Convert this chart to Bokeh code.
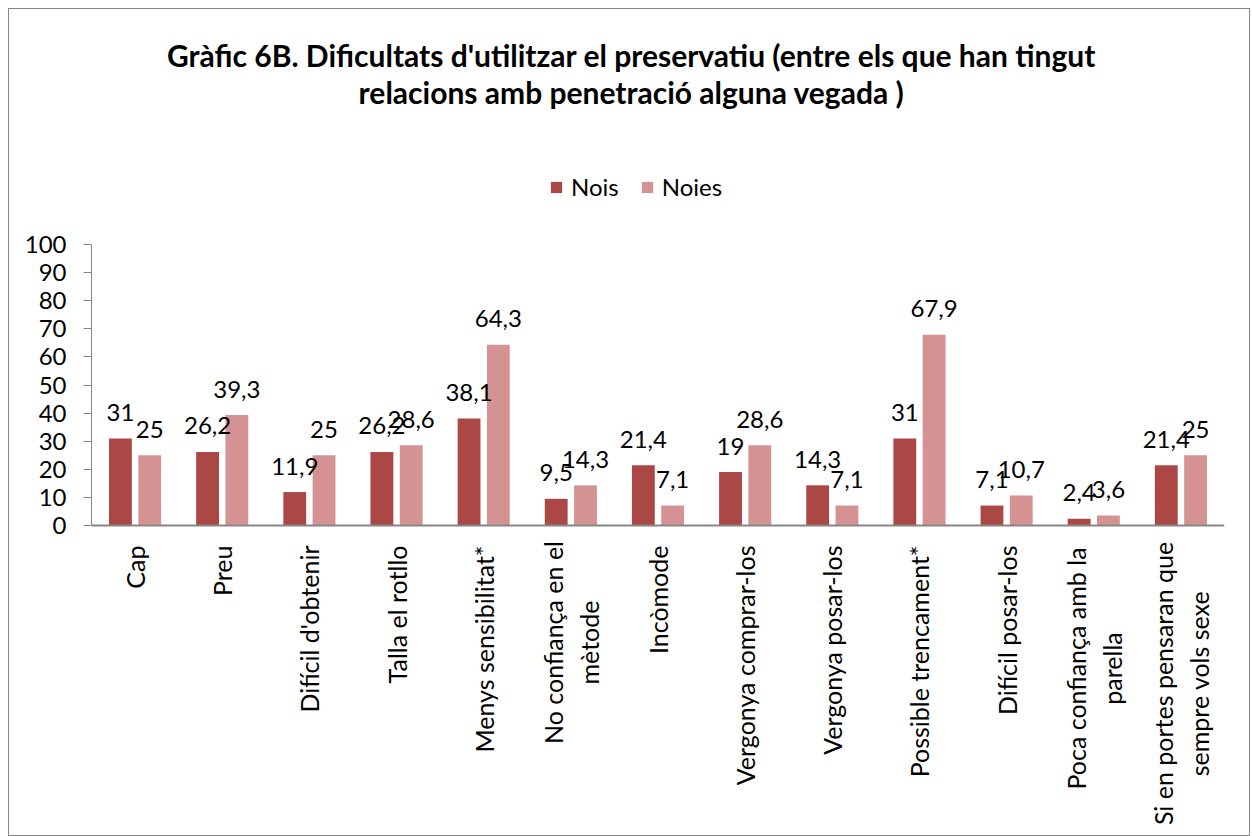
from math import pi
from bokeh.plotting import figure
from bokeh.models import ColumnDataSource, Label, Legend, LegendItem, FixedTicker, Span
from bokeh.core.properties import value
from bokeh.transform import dodge
from bokeh.embed import file_html
from bokeh.resources import INLINE

categories = ["Cap", "Preu", "Difícil d'obtenir", "Talla el rotllo", "Menys sensibilitat*",
              "No confiança en el mètode", "Incòmode", "Vergonya comprar-los",
              "Vergonya posar-los", "Possible trencament*", "Difícil posar-los",
              "Poca confiança amb la parella", "Si en portes pensaran que sempre vols sexe"]
category_labels = ["Cap", "Preu", "Difícil d'obtenir", "Talla el rotllo", "Menys sensibilitat*",
                   "No confiança en el\nmètode", "Incòmode", "Vergonya comprar-los",
                   "Vergonya posar-los", "Possible trencament*", "Difícil posar-los",
                   "Poca confiança amb la\nparella", "Si en portes pensaran que\nsempre vols sexe"]
nois = [31, 26.2, 11.9, 26.2, 38.1, 9.5, 21.4, 19, 14.3, 31, 7.1, 2.4, 21.4]
noies = [25, 39.3, 25, 28.6, 64.3, 14.3, 7.1, 28.6, 7.1, 67.9, 10.7, 3.6, 25]
y_ticks = [0, 10, 20, 30, 40, 50, 60, 70, 80, 90, 100]

FONT = "Lato"
C_NOIS = "#AB4744"
C_NOIES = "#D49392"
AXIS_C = "#868686"

def fmt(v):
    return ("%g" % v).replace(".", ",")

# layout: frame spans full height; value 0 at 516px, 100 at 235px from figure top
W, H = 1242, 828
LEFT, RIGHT = 82, 27
Y0_PX, Y100_PX = 516, 235
ppu = (Y0_PX - Y100_PX) / 100.0
y_top = Y0_PX / ppu
y_bot = -(H - Y0_PX) / ppu

# two-line labels: distance (px) of block centre below axis; single-line: standoff
label_offset = [20, 20, 20, 20, 20, 117, 20, 20, 20, 20, 20, 143, 158]
label_align = ["right" if "\n" not in l else "center" for l in category_labels]

src = ColumnDataSource(dict(cat=categories, nois=nois, noies=noies,
                            nois_t=[fmt(v) for v in nois], noies_t=[fmt(v) for v in noies]))
lab_src = ColumnDataSource(dict(cat=categories, lab=category_labels, zero=[0] * len(categories),
                                off=label_offset, align=label_align))

p = figure(x_range=categories, y_range=(y_bot, y_top), width=W, height=H,
           output_backend="svg", toolbar_location=None, x_axis_location=None,
           min_border_left=LEFT, min_border_right=RIGHT, min_border_top=0, min_border_bottom=0)
p.outline_line_color = None
p.xgrid.grid_line_color = None
p.ygrid.grid_line_color = None
p.styles = {"border": "1px solid #868686", "margin": "8px"}

bw = 0.262
r1 = p.vbar(x=dodge("cat", -0.168, range=p.x_range), top="nois", bottom=0, width=bw, source=src,
            fill_color=C_NOIS, line_color=None)
r2 = p.vbar(x=dodge("cat", 0.168, range=p.x_range), top="noies", bottom=0, width=bw, source=src,
            fill_color=C_NOIES, line_color=None)

for col, txt, off in [("nois", "nois_t", -0.168), ("noies", "noies_t", 0.168)]:
    p.text(x=dodge("cat", off, range=p.x_range), y=col, text=txt, source=src,
           text_align="center", text_baseline="alphabetic", y_offset=-26,
           text_font=value(FONT), text_font_size="24px", text_color="black")

# x axis line
p.add_layout(Span(location=0, dimension="width", line_color=AXIS_C, line_width=2))

# category labels
p.text(x="cat", y="zero", text="lab", source=lab_src, angle=pi / 2, y_offset="off",
       text_align="align", text_baseline="middle",
       text_font=value(FONT), text_font_size="25px", text_color="black")

# y axis
p.yaxis.bounds = (0, 100)
p.yaxis.ticker = FixedTicker(ticks=y_ticks)
p.yaxis.axis_line_color = AXIS_C
p.yaxis.major_tick_line_color = AXIS_C
p.yaxis.major_tick_out = 8
p.yaxis.major_tick_in = 0
p.yaxis.minor_tick_line_color = None
p.yaxis.major_label_standoff = 17
p.yaxis.major_label_text_font = FONT
p.yaxis.major_label_text_font_size = "24px"
p.yaxis.major_label_text_color = "black"

# title (two lines)
title_x = (622 - LEFT) / ((W - LEFT - RIGHT) / len(categories))
for txt, ypx in [("Gràfic 6B. Dificultats d'utilitzar el preservatiu (entre els que han tingut", 45),
                 ("relacions amb penetració alguna vegada )", 82)]:
    p.add_layout(Label(x=title_x, y=(Y0_PX - ypx) / ppu, text=txt,
                       text_align="center", text_baseline="middle",
                       text_font=FONT, text_font_style="bold", text_font_size="30px",
                       text_color="black"))

legend = Legend(items=[LegendItem(label="Nois", renderers=[r1]),
                       LegendItem(label="Noies", renderers=[r2])],
                location=(458, H - 192), orientation="horizontal",
                label_text_font=FONT, label_text_font_size="24px", label_text_color="black",
                glyph_width=14, glyph_height=14, label_standoff=8, spacing=21,
                padding=0, margin=0, border_line_color=None, background_fill_alpha=0)
p.add_layout(legend)

open("out.html", "w").write(file_html(p, INLINE))
